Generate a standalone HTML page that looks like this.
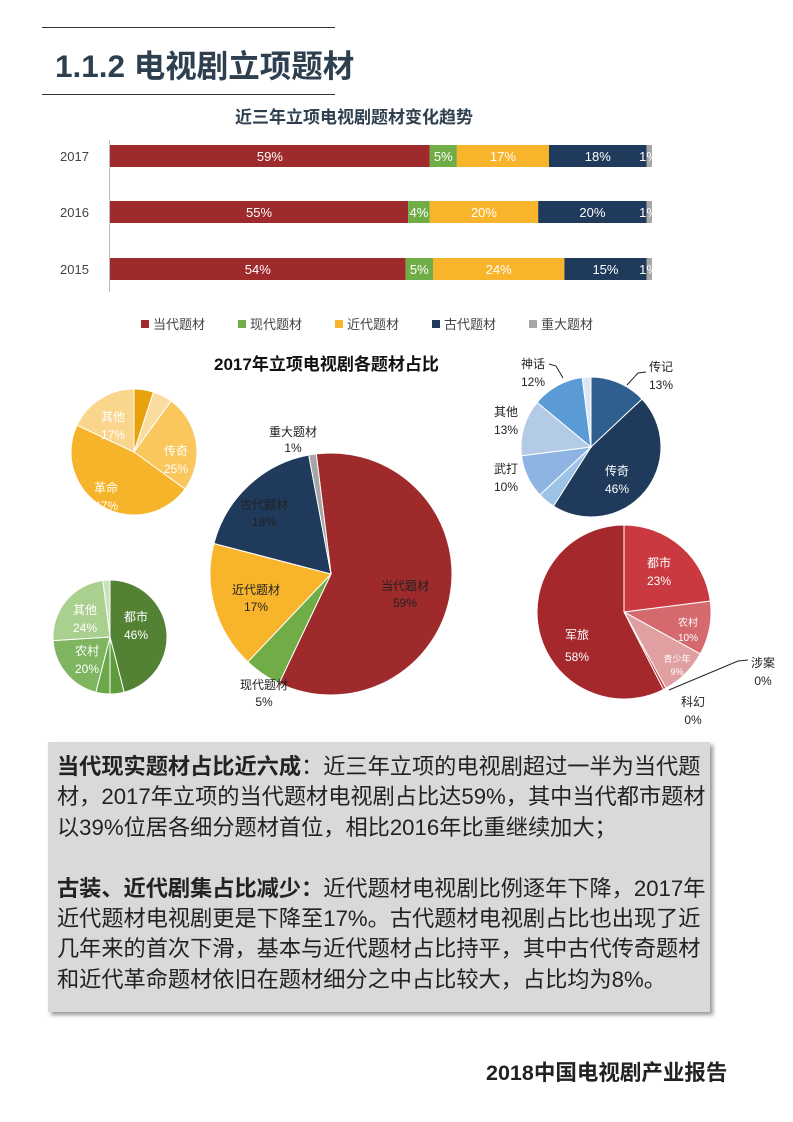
<!DOCTYPE html>
<html><head><meta charset="utf-8">
<style>
body{margin:0;background:#fff;}
#p{position:relative;width:793px;height:1122px;overflow:hidden;font-family:"Liberation Sans","Noto Sans CJK SC",sans-serif;}
.a{position:absolute;}
</style></head><body><div id="p">
<div class="a" style="left:42px;top:27px;width:293px;height:1px;background:#333"></div>
<div class="a" style="left:55px;top:41px;font-size:31.5px;font-weight:bold;color:#2e3f4f;white-space:nowrap;">1.1.2 电视剧立项题材</div>
<div class="a" style="left:42px;top:94px;width:293px;height:1px;background:#333"></div>
<div class="a" style="left:235px;top:103px;font-size:17px;font-weight:bold;color:#2e3f4f;">近三年立项电视剧题材变化趋势</div>
<svg class="a" style="left:0;top:0" width="793" height="1122" font-family="Liberation Sans, Noto Sans CJK SC, sans-serif">
<line x1="109.5" y1="140" x2="109.5" y2="292" stroke="#bbb"/>
<g id="bars" font-size="13" fill="#fff" text-anchor="middle"></g>
<g font-size="13" fill="#444">
<text x="60" y="161">2017</text><text x="60" y="217">2016</text><text x="60" y="274">2015</text>
</g>
<g font-size="13" fill="#444">
<rect x="141" y="320" width="8" height="8" fill="#9e2a2b"/><text x="153" y="329">当代题材</text>
<rect x="238" y="320" width="8" height="8" fill="#70ad47"/><text x="250" y="329">现代题材</text>
<rect x="335" y="320" width="8" height="8" fill="#f8b52c"/><text x="347" y="329">近代题材</text>
<rect x="432" y="320" width="8" height="8" fill="#1f3a5a"/><text x="444" y="329">古代题材</text>
<rect x="529" y="320" width="8" height="8" fill="#a6a6a6"/><text x="541" y="329">重大题材</text>
</g>
<text x="214" y="370" font-size="17" font-weight="bold" fill="#111">2017年立项电视剧各题材占比</text>
<g id="pies"></g>
<g font-size="12" text-anchor="middle" fill="#fff">
<text x="113" y="421">其他</text><text x="113" y="439">17%</text>
<text x="176" y="455">传奇</text><text x="176" y="473">25%</text>
<text x="106" y="492">革命</text><text x="106" y="510">47%</text>
<text x="136" y="621">都市</text><text x="136" y="639">46%</text>
<text x="85" y="614">其他</text><text x="85" y="632">24%</text>
<text x="87" y="655">农村</text><text x="87" y="673">20%</text>
<text x="617" y="475">传奇</text><text x="617" y="493">46%</text>
<text x="659" y="567">都市</text><text x="659" y="585">23%</text>
<text x="577" y="639">军旅</text><text x="577" y="661">58%</text>
<text x="688" y="626" font-size="10">农村</text><text x="688" y="641" font-size="10">10%</text>
<text x="677" y="662" font-size="9">青少年</text><text x="677" y="675" font-size="9">9%</text>
</g>
<g font-size="12" text-anchor="middle" fill="#222">
<text x="293" y="436">重大题材</text><text x="293" y="452">1%</text>
<text x="264" y="509">古代题材</text><text x="264" y="526">18%</text>
<text x="256" y="594">近代题材</text><text x="256" y="611">17%</text>
<text x="405" y="590">当代题材</text><text x="405" y="607">59%</text>
<text x="264" y="689">现代题材</text><text x="264" y="706">5%</text>
<text x="533" y="368">神话</text><text x="533" y="386">12%</text>
<text x="661" y="371">传记</text><text x="661" y="389">13%</text>
<text x="506" y="416">其他</text><text x="506" y="434">13%</text>
<text x="506" y="473">武打</text><text x="506" y="491">10%</text>
<text x="763" y="667">涉案</text><text x="763" y="685">0%</text>
<text x="693" y="706">科幻</text><text x="693" y="724">0%</text>
</g>
<g stroke="#222" fill="none" stroke-width="1">
<polyline points="549,364 556,366 563,378"/>
<polyline points="646,372 638,373 627,385"/>
<polyline points="748,660 738,661 669,690"/>
</g>
</svg>
<div class="a" style="left:48px;top:742px;width:662px;height:270px;background:#d9d9d9;box-shadow:3px 3px 4px #999;"></div>
<div class="a" style="left:57px;top:752px;font-size:22.2px;line-height:30.4px;color:#222;white-space:nowrap;">
<b>当代现实题材占比近六成</b>：近三年立项的电视剧超过一半为当代题<br>材，2017年立项的当代题材电视剧占比达59%，其中当代都市题材<br>以39%位居各细分题材首位，相比2016年比重继续加大；<br><br>
<b>古装、近代剧集占比减少：</b>近代题材电视剧比例逐年下降，2017年<br>近代题材电视剧更是下降至17%。古代题材电视剧占比也出现了近<br>几年来的首次下滑，基本与近代题材占比持平，其中古代传奇题材<br>和近代革命题材依旧在题材细分之中占比较大，占比均为8%。
</div>
<div class="a" style="left:486px;top:1056px;font-size:21.5px;font-weight:bold;color:#222;white-space:nowrap;">2018中国电视剧产业报告</div>
</div>
<script>
var NS="http://www.w3.org/2000/svg";
var cols=["#9e2a2b","#70ad47","#f8b52c","#1f3a5a","#a6a6a6"];
var data={2017:[59,5,17,18,1],2016:[55,4,20,20,1],2015:[54,5,24,15,1]};
var ys={2017:145,2016:201,2015:258};
var bg=document.getElementById("bars");
for(var k in data){var x=110;var d=data[k];var sc=542/d.reduce(function(a,b){return a+b;},0);for(var i=0;i<5;i++){var w=d[i]*sc;
var r=document.createElementNS(NS,"rect");r.setAttribute("x",x);r.setAttribute("y",ys[k]);r.setAttribute("width",w);r.setAttribute("height",22);r.setAttribute("fill",cols[i]);bg.appendChild(r);
var t=document.createElementNS(NS,"text");t.setAttribute("x",i==4?x+2:x+w/2);t.setAttribute("y",ys[k]+16);t.textContent=d[i]+"%";bg.appendChild(t);x+=w;}}
var pg=document.getElementById("pies");
function pie(cx,cy,R,off,sl){var a=off;sl.forEach(function(s){var b=a+s[0]*3.6;
var a1=(a-90)*Math.PI/180,b1=(b-90)*Math.PI/180;
var p=document.createElementNS(NS,"path");
p.setAttribute("d","M"+cx+","+cy+"L"+(cx+R*Math.cos(a1))+","+(cy+R*Math.sin(a1))+"A"+R+","+R+" 0 "+((b-a)>180?1:0)+" 1 "+(cx+R*Math.cos(b1))+","+(cy+R*Math.sin(b1))+"Z");
p.setAttribute("fill",s[1]);p.setAttribute("stroke","#fff");p.setAttribute("stroke-width","1");pg.appendChild(p);a=b;});}
pie(331,574,121,-7,[[59,"#9e2a2b"],[5,"#70ad47"],[17,"#f8b52c"],[18,"#1f3a5a"],[1,"#a6a6a6"]]);
pie(134,452,63,0,[[5,"#e8a20c"],[5,"#fbdca0"],[25,"#f9c75c"],[47,"#f6b42a"],[18,"#fad58c"]]);
pie(110,637,57,0,[[46,"#548235"],[4,"#5f9a3c"],[4,"#6aa84a"],[20,"#7fb561"],[24,"#a9d08e"],[2,"#c9e2b8"]]);
pie(591,447,70,0,[[13,"#2e5f8f"],[46,"#1f3a5a"],[4,"#9dc3e6"],[10,"#8db4e2"],[13,"#b4cbe8"],[12,"#5b9bd5"],[2,"#dbe7f3"]]);
pie(624,612,87,0,[[23,"#c9393f"],[10,"#d46a6e"],[9,"#e0a0a2"],[0.5,"#b33"],[57.5,"#a5282c"]]);
</script>
</body></html>
